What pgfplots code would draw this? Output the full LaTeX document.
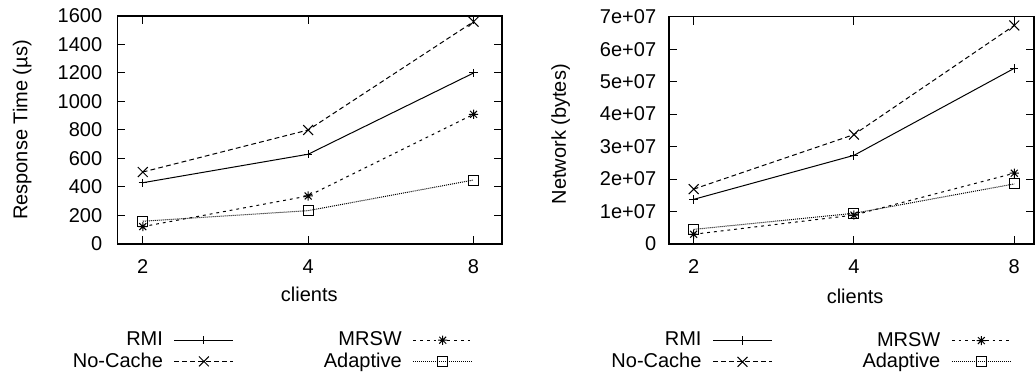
\documentclass[border=0pt]{standalone}
\usepackage{fontspec}
\setmainfont{Liberation Sans}
\usepackage{pgfplots}
\pgfplotsset{compat=1.18}

\pgfdeclareplotmark{gpstar}{%
  \pgfpathmoveto{\pgfpoint{-\pgfplotmarksize}{0pt}}%
  \pgfpathlineto{\pgfpoint{\pgfplotmarksize}{0pt}}%
  \pgfpathmoveto{\pgfpoint{0pt}{-\pgfplotmarksize}}%
  \pgfpathlineto{\pgfpoint{0pt}{\pgfplotmarksize}}%
  \pgfpathmoveto{\pgfpoint{-0.75\pgfplotmarksize}{-0.75\pgfplotmarksize}}%
  \pgfpathlineto{\pgfpoint{0.75\pgfplotmarksize}{0.75\pgfplotmarksize}}%
  \pgfpathmoveto{\pgfpoint{-0.75\pgfplotmarksize}{0.75\pgfplotmarksize}}%
  \pgfpathlineto{\pgfpoint{0.75\pgfplotmarksize}{-0.75\pgfplotmarksize}}%
  \pgfusepathqstroke}

\pgfplotsset{
  gp/.style={
    scale only axis,
    axis line style={line width=0.65pt},
    tick align=inside,
    xtick pos=both, ytick pos=both,
    major tick length=4pt,
    tick style={line width=0.5pt, black},
    xtick={0,1,2}, xticklabels={2,4,8},
    xmin=-0.154,
    ymin=0,
    /pgf/number format/assume math mode=true,
    /pgf/number format/1000 sep={},
    scaled y ticks=false,
    xticklabel style={yshift=-4.4pt},
    xlabel=clients,
    legend columns=2,
    legend plot pos=right,
    legend cell align=right,
    legend style={draw=none, fill=none, inner sep=0pt, row sep=2pt,
      nodes={inner sep=0pt},
      /tikz/every odd column/.append style={column sep=5.5pt},
      /tikz/every even column/.append style={column sep=45pt},
      anchor=north east},
    legend image code/.code={\draw[mark repeat=2,mark phase=2,#1] plot coordinates {(0pt,0pt) (14.75pt,0pt) (29.5pt,0pt)};},
    every axis plot/.append style={line width=0.5pt, black, mark size=2.5pt, mark options={solid, line width=0.5pt}},
  },
  rmi/.style={solid, mark=+, mark size=2.1pt},
  nocache/.style={dash pattern=on 2.4pt off 1.6pt, mark=x, mark size=3.5pt},
  mrsw/.style={dash pattern=on 1.4pt off 2pt, mark=gpstar, mark size=2.3pt},
  adaptive/.style={dash pattern=on 0.5pt off 0.5pt, mark=square, mark size=2.5pt},
}

\begin{document}
\begin{tikzpicture}
\path[use as bounding box] (0,0) rectangle (517.5pt,187pt);

\begin{axis}[gp,
  at={(58.65pt,65pt)}, anchor=south west,
  width=192.35pt, height=114pt,
  xmax=2.172,
  ymax=1600, ytick={0,200,...,1600},
  yticklabel style={xshift=-4pt},
  ylabel={Response Time (µs)},
  ylabel style={at={(axis description cs:-0.2475,0.5)}, anchor=center},
  xlabel style={at={(axis description cs:0.499,-0.222)}, anchor=center},
  legend style={at={(axis description cs:0.925,-0.383)}},
]
\addplot[rmi] coordinates {(0,430) (1,630) (2,1200)};
\addlegendentry{RMI}
\addplot[mrsw] coordinates {(0,122) (1,337) (2,910)};
\addlegendentry{MRSW}
\addplot[nocache] coordinates {(0,505) (1,800) (2,1560)};
\addlegendentry{No-Cache}
\addplot[adaptive] coordinates {(0,160) (1,234) (2,449)};
\addlegendentry{Adaptive}
\end{axis}

\begin{axis}[gp,
  at={(334.5pt,65pt)}, anchor=south west,
  width=182.5pt, height=113.65pt,
  xmax=2.123,
  ymax=70000000,
  ytick={0,10000000,20000000,30000000,40000000,50000000,60000000,70000000},
  yticklabels={0,1e+07,2e+07,3e+07,4e+07,5e+07,6e+07,7e+07},
  yticklabel style={xshift=-2.9pt},
  ylabel={Network (bytes)},
  ylabel style={at={(axis description cs:-0.297,0.483)}, anchor=center},
  xlabel style={at={(axis description cs:0.51,-0.229)}, anchor=center},
  legend style={at={(axis description cs:0.939,-0.386)}},
]
\addplot[rmi] coordinates {(0,13750000) (1,27300000) (2,54100000)};
\addlegendentry{RMI}
\addplot[mrsw] coordinates {(0,3000000) (1,8900000) (2,21800000)};
\addlegendentry{MRSW}
\addplot[nocache] coordinates {(0,16900000) (1,33700000) (2,67300000)};
\addlegendentry{No-Cache}
\addplot[adaptive] coordinates {(0,4500000) (1,9450000) (2,18500000)};
\addlegendentry{Adaptive}
\end{axis}
\end{tikzpicture}
\end{document}
